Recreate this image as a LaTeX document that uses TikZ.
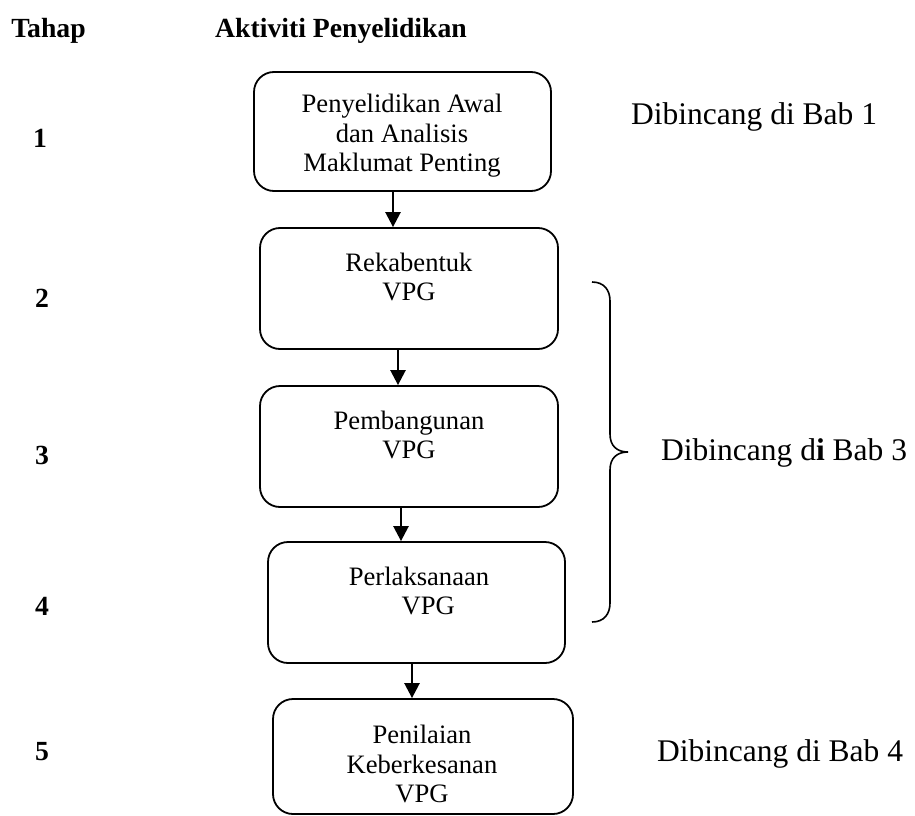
\documentclass[tikz,border=0pt]{standalone}
\usepackage{fontspec}
\setmainfont{Liberation Serif}
\usetikzlibrary{arrows.meta}
\begin{document}
\begin{tikzpicture}[x=1pt,y=-1pt,
  box/.style={draw, line width=1.8pt, rounded corners=20pt, inner sep=0pt},
  boxtext/.style={align=center, font=\fontsize{26.6}{29.5}\selectfont, inner sep=0pt},
  arr/.style={line width=2.5pt, -{Triangle[length=15pt,width=15pt]}},
  lbl/.style={font=\fontsize{31.5}{36}\selectfont, inner sep=0pt, anchor=west},
  hdr/.style={font=\fontsize{27.7}{32}\selectfont\bfseries, inner sep=0pt},
  num/.style={font=\fontsize{27.7}{32}\selectfont\bfseries, inner sep=0pt},
  brace/.style={line width=1.6pt}
]
\useasboundingbox (0,0) rectangle (915,816);

% headers
\node[hdr] (h1) at (48.5,31) {Tahap};
\node[hdr] (h2) at (341,31) {Aktiviti Penyelidikan};

% stage numbers
\node[num] (n1) at (40,138) {1};
\node[num] (n2) at (42,298) {2};
\node[num] (n3) at (42,455) {3};
\node[num] (n4) at (42,606) {4};
\node[num] (n5) at (42,752) {5};

% boxes
\node[box, minimum width=297pt, minimum height=119pt] (b1) at (402.5,131.5) {};
\node[box, minimum width=298pt, minimum height=121pt] (b2) at (409,288.5) {};
\node[box, minimum width=298pt, minimum height=121pt] (b3) at (409,446.5) {};
\node[box, minimum width=297pt, minimum height=121pt] (b4) at (416.5,602.5) {};
\node[box, minimum width=300pt, minimum height=115pt] (b5) at (423,756.5) {};

% box texts
\node[boxtext] (t1) at (402,136) {Penyelidikan Awal\\dan Analisis\\Maklumat Penting};
\node[boxtext] (t2) at (409,277) {Rekabentuk\\VPG};
\node[boxtext] (t3) at (409,435) {Pembangunan\\VPG};
\node[boxtext] (t4) at (419,591) {Perlaksanaan\\\hspace*{0.7em}VPG};
\node[boxtext] (t5) at (422,764) {Penilaian\\Keberkesanan\\VPG};

% arrows
\draw[arr] ([xshift=-9.5pt]b1.south) -- ([xshift=-9.5pt]b1.south |- b2.north);
\draw[arr] ([xshift=-11pt]b2.south) -- ([xshift=-11pt]b2.south |- b3.north);
\draw[arr] ([xshift=-8pt]b3.south) -- ([xshift=-8pt]b3.south |- b4.north);
\draw[arr] ([xshift=-4.5pt]b4.south) -- ([xshift=-4.5pt]b4.south |- b5.north);

% brace
\draw[brace] (592,282) .. controls (604,282) and (610,290) .. (610,301)
  -- (610,434) .. controls (610,446) and (617,452) .. (628,452)
  .. controls (617,452) and (610,458) .. (610,470)
  -- (610,603) .. controls (610,614) and (604,622) .. (592,622);

% right labels
\node[lbl] (r1) at (631,117) {Dibincang di Bab 1};
\node[lbl] (r3) at (661,453) {Dibincang d\textbf{i} Bab 3};
\node[lbl] (r4) at (657,754) {Dibincang di Bab 4};
\end{tikzpicture}
\end{document}
